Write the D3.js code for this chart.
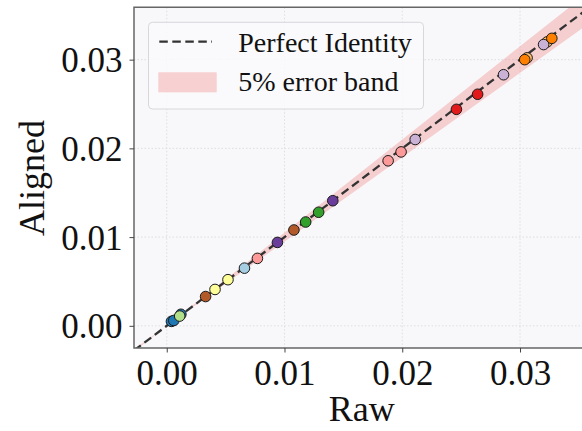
<!DOCTYPE html>
<html>
<head>
<meta charset="utf-8">
<script src="https://cdn.jsdelivr.net/npm/d3@7"></script>
<style>
  html, body { margin: 0; padding: 0; background: #fff; }
  svg { display: block; font-family: "Liberation Serif", "Times New Roman", serif; }
</style>
</head>
<body>
<svg width="582" height="431"></svg>
<script>
// Raw vs aligned values, one colour per point (Paired palette)
var rawValues = [0.0004, 0.0006, 0.0012, 0.0011, 0.0033, 0.0041, 0.0052, 0.0066, 0.0077, 0.0094,
                 0.0108, 0.0118, 0.0129, 0.0141, 0.0188, 0.0199, 0.0211, 0.0246, 0.0264, 0.0286,
                 0.0306, 0.0304, 0.0323, 0.0320, 0.0327];
var alignedValues = [0.0005, 0.0006, 0.0013, 0.0011, 0.0033, 0.0041, 0.0052, 0.0065, 0.0076, 0.0094,
                     0.0108, 0.0117, 0.0128, 0.0141, 0.0186, 0.0196, 0.0210, 0.0244, 0.0261, 0.0283,
                     0.0302, 0.0300, 0.0320, 0.0317, 0.0324];
var pointColors = ['#1f78b4', '#1f78b4', '#1f78b4', '#b2df8a', '#b15928', '#ffff99', '#ffff99', '#a6cee3', '#fb9a99', '#6a3d9a',
                   '#b15928', '#33a02c', '#33a02c', '#6a3d9a', '#fb9a99', '#fb9a99', '#cab2d6', '#e31a1c', '#e31a1c', '#cab2d6',
                   '#fdbf6f', '#ff7f00', '#fdbf6f', '#cab2d6', '#ff7f00'];
var tickValues = [0, 0.01, 0.02, 0.03];
var xDomain = [-0.00278, 0.0359];
var yDomain = [-0.0025, 0.0359];
var bandPct = 0.05;
var legendLabels = ['Perfect Identity', '5% error band'];

var svg = d3.select('svg');
// plot area box (window.top is reserved, so use p* names)
var pLeft = 134, pRight = 589.5, pTop = 7.3, pBottom = 348;

var x = d3.scaleLinear().domain(xDomain).range([pLeft, pRight]);
var y = d3.scaleLinear().domain(yDomain).range([pBottom, pTop]);

// plot background
svg.append('rect')
    .attr('x', pLeft).attr('y', pTop)
    .attr('width', pRight - pLeft).attr('height', pBottom - pTop)
    .attr('fill', '#f8f8fa');

svg.append('clipPath').attr('id', 'plotclip')
  .append('rect')
    .attr('x', pLeft).attr('y', pTop)
    .attr('width', pRight - pLeft).attr('height', pBottom - pTop);

// grid lines
var grid = svg.append('g').attr('stroke', '#d8d8dc').attr('stroke-width', 0.8).attr('stroke-dasharray', '1.5,2');
grid.selectAll('.gx').data(tickValues).enter().append('line')
    .attr('x1', function(d) { return x(d); }).attr('x2', function(d) { return x(d); })
    .attr('y1', pTop).attr('y2', pBottom);
grid.selectAll('.gy').data(tickValues).enter().append('line')
    .attr('y1', function(d) { return y(d); }).attr('y2', function(d) { return y(d); })
    .attr('x1', pLeft).attr('x2', pRight);

var plot = svg.append('g').attr('clip-path', 'url(#plotclip)');

// 5% error band around identity
var lineX = [xDomain[0], 0, xDomain[1] + 0.002];
var band = d3.area()
    .x(function(d) { return x(d); })
    .y0(function(d) { return y(d * (1 - bandPct)); })
    .y1(function(d) { return y(d * (1 + bandPct)); });
plot.append('path').datum(lineX)
    .attr('d', band)
    .attr('fill', '#f08080').attr('fill-opacity', 0.35);

// identity line
plot.append('line')
    .attr('x1', x(xDomain[0])).attr('y1', y(xDomain[0]))
    .attr('x2', x(xDomain[1] + 0.002)).attr('y2', y(xDomain[1] + 0.002))
    .attr('stroke', '#333').attr('stroke-width', 2.3)
    .attr('stroke-dasharray', '8.5,4.5');

// points
var pts = rawValues.map(function(v, i) { return { raw: v, aligned: alignedValues[i], color: pointColors[i] }; });
plot.selectAll('circle').data(pts).enter().append('circle')
    .attr('cx', function(d) { return x(d.raw); })
    .attr('cy', function(d) { return y(d.aligned); })
    .attr('r', 5.3)
    .attr('fill', function(d) { return d.color; })
    .attr('stroke', '#1a1a1a').attr('stroke-width', 1);

// spines
svg.append('path')
    .attr('d', 'M' + pRight + ',' + pTop + 'H' + pLeft + 'V' + pBottom + 'H' + pRight)
    .attr('fill', 'none').attr('stroke', '#666').attr('stroke-width', 1.5);

// axes
var fmt = d3.format('.2f');
var xAxis = svg.append('g').attr('transform', 'translate(0,' + pBottom + ')')
    .call(d3.axisBottom(x).tickValues(tickValues).tickFormat(fmt).tickSize(4.5).tickPadding(8));
var yAxis = svg.append('g').attr('transform', 'translate(' + pLeft + ',0)')
    .call(d3.axisLeft(y).tickValues(tickValues).tickFormat(fmt).tickSize(4.5).tickPadding(7));
[xAxis, yAxis].forEach(function(a) {
    a.select('.domain').remove();
    a.selectAll('line').attr('stroke', '#444').attr('stroke-width', 1);
    a.selectAll('text').attr('fill', '#111').style('font-family', '"Liberation Serif", serif').style('font-size', '35px');
});
xAxis.selectAll('text').attr('dy', '0.71em');
yAxis.selectAll('text').attr('dy', '0.34em');

// axis titles
svg.append('text')
    .attr('x', (pLeft + pRight) / 2).attr('y', 421)
    .attr('text-anchor', 'middle')
    .style('font-size', '36px').attr('fill', '#111')
    .text('Raw');
svg.append('text')
    .attr('transform', 'translate(44,178) rotate(-90)')
    .attr('text-anchor', 'middle')
    .style('font-size', '36px').attr('fill', '#111')
    .text('Aligned');

// legend
var legend = svg.append('g');
legend.append('rect')
    .attr('x', 148.5).attr('y', 22.3).attr('width', 275).attr('height', 86.7)
    .attr('rx', 4)
    .attr('fill', '#fafafb').attr('fill-opacity', 0.85)
    .attr('stroke', '#d8d8dc').attr('stroke-width', 1);
legend.append('line')
    .attr('x1', 159.3).attr('x2', 212).attr('y1', 41.7).attr('y2', 41.7)
    .attr('stroke', '#333').attr('stroke-width', 2.3)
    .attr('stroke-dasharray', '8.5,4.5');
legend.append('rect')
    .attr('x', 158.3).attr('y', 72.3).attr('width', 58.4).attr('height', 20)
    .attr('fill', '#f08080').attr('fill-opacity', 0.35);
legend.selectAll('.lt').data(legendLabels).enter().append('text')
    .attr('x', 238.3)
    .attr('y', function(d, i) { return 51.7 + i * 39.5; })
    .style('font-size', '28px').attr('fill', '#111')
    .text(function(d) { return d; });
</script>
</body>
</html>
